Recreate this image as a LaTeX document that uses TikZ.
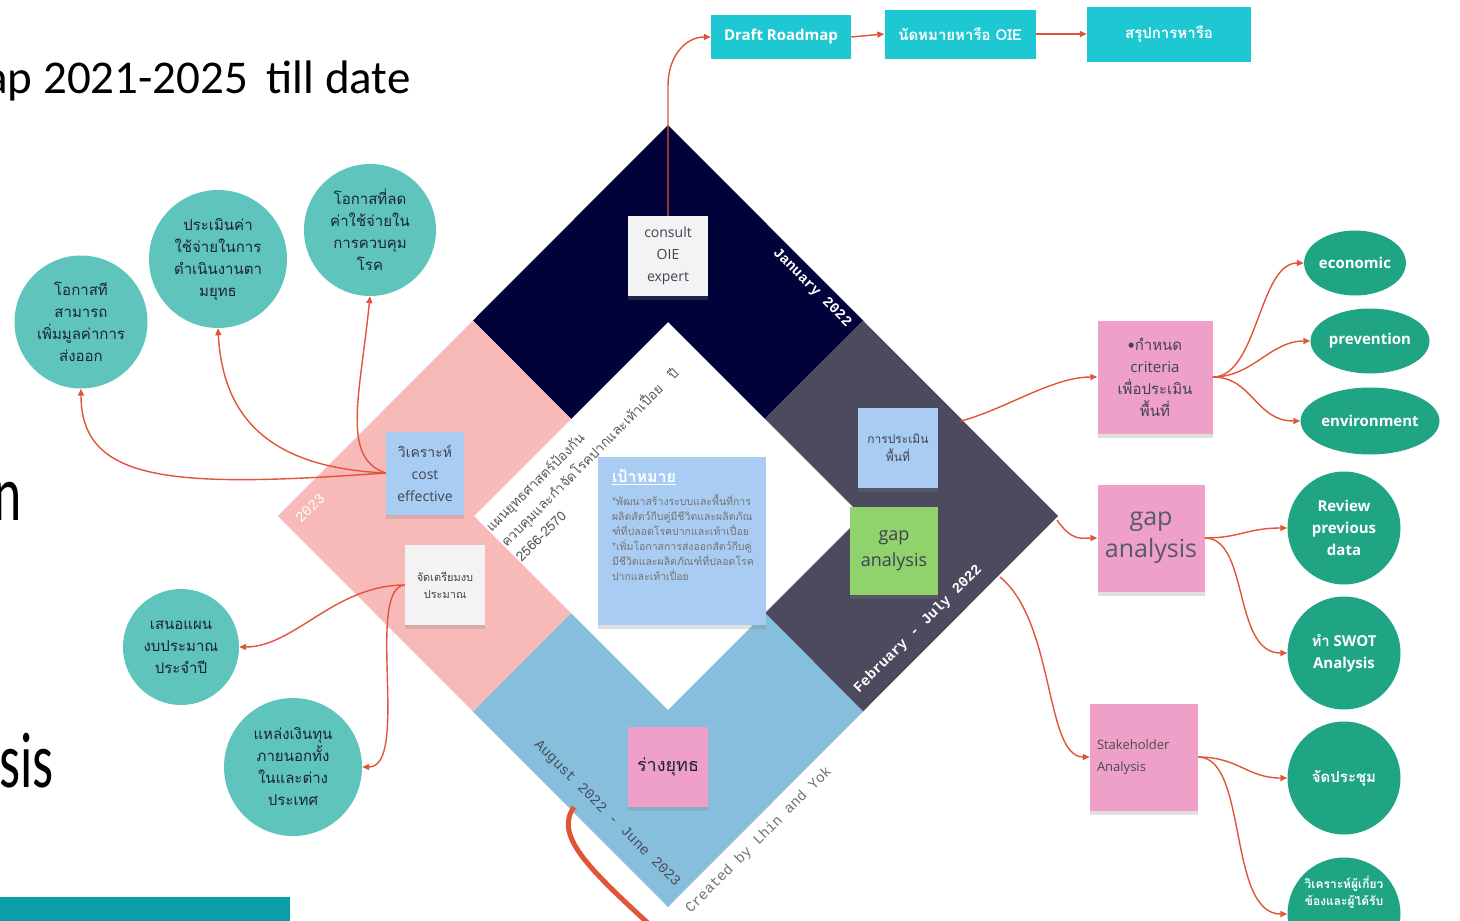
\documentclass[tikz,border=0pt]{standalone}
\usepackage{fontspec}
\setmainfont{Open Sans}
\newfontfamily\thai[Script=Thai]{Loma}
\newfontfamily\mono{Liberation Mono}
\newfontfamily\slide{Carlito}
\usetikzlibrary{arrows.meta,shapes.geometric,shadows}
\newcommand{\fsz}[2]{\fontsize{#1}{#2}\selectfont}

\definecolor{navyband}{HTML}{02023A}
\definecolor{slateband}{HTML}{4B4A5E}
\definecolor{blueband}{HTML}{86BEDC}
\definecolor{pinkband}{HTML}{F8B9B9}
\definecolor{notewhite}{HTML}{F3F3F3}
\definecolor{noteblue}{HTML}{A9CDF2}
\definecolor{notegreen}{HTML}{90D26B}
\definecolor{notepink}{HTML}{EFA0C8}
\definecolor{bubbleteal}{HTML}{5EC4BC}
\definecolor{bubblegreen}{HTML}{20A584}
\definecolor{boxcyan}{HTML}{1EC8D2}
\definecolor{linkred}{HTML}{E0553A}
\definecolor{bartealc}{HTML}{0A9FA8}
\definecolor{inkdark}{HTML}{1C2236}

\tikzset{
  note/.style={rectangle, align=center, inner sep=3pt, text=inkdark!85,
    minimum width=80, minimum height=80,
    drop shadow={shadow xshift=0pt, shadow yshift=-4pt, opacity=0.25}},
  topbox/.style={rectangle, fill=boxcyan, text=white, minimum height=44,
    font=\bfseries\fsz{15}{18}},
  oldbubble/.style={circle, fill=bubbleteal, text=inkdark, align=center,
    inner sep=0pt, font=\thai\fsz{15}{22}},
  newbubble/.style={circle, fill=bubblegreen, text=white, align=center,
    inner sep=0pt, font=\bfseries\fsz{15}{22}},
  newoval/.style={ellipse, fill=bubblegreen, text=white, inner sep=0pt,
    font=\bfseries\fsz{15}{18}},
  bandtext/.style={font=\mono\fsz{14.5}{17}},
  bigslide/.style={anchor=base east, font=\slide\fsz{79}{80}, xscale=0.68, transform shape},
  link/.style={draw=linkred, line width=1.4pt,
    -{Triangle[length=7pt,width=6pt]}}
}

\begin{document}
\begin{tikzpicture}[x=1pt,y=-1pt]
\useasboundingbox (0,0) rectangle (1460,921);
\clip (0,0) rectangle (1460,921);
\fill[white] (0,0) rectangle (1460,921);

% slide text behind the diagram
\node[anchor=base east, font=\slide\fsz{47}{50}] (slidetop) at (414,93) {ap 2021-2025\, till date};
\node[bigslide] (slidemid) at (24,520) {n};
\node[bigslide] (slidelow) at (56,787) {sis};
\fill[bartealc] (0,897) rectangle (290,921);

% the diamond, one corner colour each
\fill[navyband] (473,320.5) -- (668,125) -- (863,320.5) -- (765,419) -- (668,322) -- (571,419) -- cycle;
\fill[slateband] (863,320.5) -- (1058,516) -- (863,711.5) -- (765,613) -- (862,516) -- (765,419) -- cycle;
\fill[blueband] (863,711.5) -- (668,907) -- (473,711.5) -- (571,613) -- (668,710) -- (765,613) -- cycle;
\fill[pinkband] (473,711.5) -- (278,516) -- (473,320.5) -- (571,419) -- (474,516) -- (571,613) -- cycle;

\node[bandtext, text=white, rotate=-45] (jan) at (812,288) {\bfseries January 2022};
\node[bandtext, text=white, rotate=45] (feb) at (918,629) {\bfseries February - July 2022};
\node[bandtext, text=inkdark!80, rotate=-45] (aug) at (607,814) {August 2022 - June 2023};
\node[bandtext, text=black!55, rotate=45] (credit) at (759,840) {Created by Lhin and Yok};
\node[bandtext, text=white, rotate=45] (yr) at (310,508) {2023};
\node[rotate=45, align=left, text=black!65, font=\thai\fsz{13.5}{21}] (plantitle) at (589,457)
  {แผนยุทธศาสตร์ป้องกัน\\ควบคุมและกำจัดโรคปากและเท้าเปื่อย\quad ปี\\2566-2570};

% sticky notes on the diamond
\node[note, fill=notewhite, font=\fsz{14}{22}] (consult) at (668,256) {consult\\OIE\\expert};
\node[note, fill=noteblue, minimum width=78, minimum height=83, font=\fsz{14}{22}] (cost) at (425,473)
  {{\thai วิเคราะห์}\\cost\\effective};
\node[note, fill=notewhite, font=\thai\fsz{11}{17}] (budget) at (445,585) {จัดเตรียมงบ\\ประมาณ};
\node[note, fill=noteblue, minimum width=168, minimum height=168] (goal) at (682,541) {};
\node[anchor=north west, inner sep=0pt, text=white, font=\thai\bfseries\fsz{16}{20}] (goalhead)
  at ([shift={(14,12)}]goal.north west) {\underline{เป้าหมาย}};
\node[anchor=north west, align=left, inner sep=0pt, text=black!55, font=\thai\fsz{10.5}{15}] (goalbody)
  at ([shift={(0,10)}]goalhead.south west)
  {*พัฒนาสร้างระบบและพื้นที่การ\\ผลิตสัตว์กีบคู่มีชีวิตและผลิตภัณ\\ฑ์ที่ปลอดโรคปากและเท้าเปื่อย\\*เพิ่มโอกาสการส่งออกสัตว์กีบคู่\\มีชีวิตและผลิตภัณฑ์ที่ปลอดโรค\\ปากและเท้าเปื่อย};
\node[note, fill=noteblue, font=\thai\fsz{12}{18}] (area) at (898,448) {การประเมิน\\พื้นที่};
\node[note, fill=notegreen, minimum width=88, minimum height=88, font=\fsz{18}{26}] (gapg) at (894,551) {gap\\analysis};
\node[note, fill=notepink, font=\thai\fsz{18}{22}, text=inkdark] (draftst) at (668,767) {ร่างยุทธ};

% top row
\node[topbox, minimum width=140] (draft) at (781,37) {Draft Roadmap};
\node[topbox, minimum width=151, minimum height=49, font=\thai\bfseries\fsz{15}{18}] (oie) at (960,34) {นัดหมายหารือ OIE};
\node[topbox, minimum width=164, minimum height=55, font=\thai\bfseries\fsz{15}{18}] (summ) at (1169,34) {สรุปการหารือ};

% left bubbles
\node[oldbubble, minimum size=133] (opp1) at (81,322) {โอกาสที\\สามารถ\\เพิ่มมูลค่าการ\\ส่งออก};
\node[oldbubble, minimum size=138] (costop) at (218,259) {ประเมินค่า\\ใช้จ่ายในการ\\ดำเนินงานตา\\มยุทธ};
\node[oldbubble, minimum size=132] (opp2) at (370,230) {โอกาสที่ลด\\ค่าใช้จ่ายใน\\การควบคุม\\โรค};
\node[oldbubble, minimum size=116] (plan) at (181,647) {เสนอแผน\\งบประมาณ\\ประจำปี};
\node[oldbubble, minimum size=138] (fund) at (293,767) {แหล่งเงินทุน\\ภายนอกทั้ง\\ในและต่าง\\ประเทศ};

% right notes
\node[note, fill=notepink, minimum width=115, minimum height=113, font=\thai\fsz{15}{22}] (crit) at (1155,377)
  {•กำหนด\\{\rmfamily criteria}\\เพื่อประเมิน\\พื้นที่};
\node[note, fill=notepink, minimum width=107, minimum height=107, font=\fsz{25}{32}, text=inkdark!75] (gapr) at (1151,538) {gap\\analysis};
\node[note, fill=notepink, minimum width=108, minimum height=107, align=left, text width=94,
  font=\fsz{13}{22}, text=black!70] (stake) at (1144,757) {Stakeholder\\Analysis\\[6pt]};

% right bubbles
\node[newoval, minimum width=100, minimum height=65] (econ) at (1355,263) {economic};
\node[newoval, minimum width=119, minimum height=65] (prev) at (1370,341) {prevention};
\node[newoval, minimum width=139, minimum height=67] (env) at (1370,421) {environment};
\node[newbubble, minimum size=113] (review) at (1344,528) {Review\\previous\\data};
\node[newbubble, minimum size=113] (swot) at (1344,653) {{\thai ทำ} SWOT\\Analysis};
\node[newbubble, minimum size=113, font=\thai\bfseries\fsz{15}{20}] (meet) at (1344,778) {จัดประชุม};
\node[newbubble, minimum size=113, font=\thai\bfseries\fsz{12}{17}] (stan) at (1344,914) {วิเคราะห์ผู้เกี่ยว\\ข้องและผู้ได้รับ\\[30pt]};

% free ends on the diamond
\coordinate (critfrom) at (961,421);
\coordinate (gapfrom) at (1057,520);
\coordinate (stakefrom) at (1000,577);
\coordinate (redtop) at (574,807);
\coordinate (redbot) at (650,925);

% connectors
\draw[link] (consult.north) -- ++(0,-130) .. controls +(0,-30) and +(-25,0) .. (draft.west);
\draw[link] (draft.east) -- (oie.west);
\draw[link] (oie.east) -- (summ.west);
\draw[link] (cost.west) .. controls +(-210,15) and +(0,95) .. (opp1.south);
\draw[link] (cost.west) .. controls +(-110,-5) and +(5,95) .. (costop.south);
\draw[link] (cost.west) .. controls +(-45,-15) and +(-10,100) .. (opp2.south);
\draw[link] (budget.west) .. controls +(-70,0) and +(55,0) .. (plan.east);
\draw[link] (budget.west) .. controls +(-40,3) and +(48,0) .. (fund.east);
\draw[link] (critfrom) .. controls +(45,-12) and +(-45,0) .. (crit.west);
\draw[link] (crit.east) .. controls +(45,0) and +(-45,0) .. (econ.west);
\draw[link] (crit.east) .. controls +(40,0) and +(-40,0) .. (prev.west);
\draw[link] (crit.east) .. controls +(40,0) and +(-45,0) .. (env.west);
\draw[link] (gapfrom) .. controls +(15,22) and +(-15,0) .. (gapr.west);
\draw[link] (gapr.east) .. controls +(35,0) and +(-40,0) .. (review.west);
\draw[link] (gapr.east) .. controls +(45,0) and +(-55,0) .. (swot.west);
\draw[link] (stakefrom) .. controls +(55,45) and +(-45,0) .. (stake.west);
\draw[link] (stake.east) .. controls +(40,0) and +(-40,0) .. (meet.west);
\draw[link] (stake.east) .. controls +(50,0) and +(-60,0) .. (stan.west);
\draw[draw=linkred, line width=5pt] (redtop) .. controls (554,835) and (588,868) .. (redbot);
\end{tikzpicture}
\end{document}
